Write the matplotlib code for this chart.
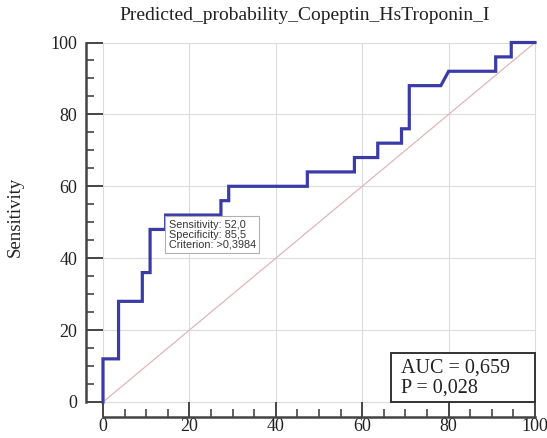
import matplotlib
matplotlib.use("Agg")
import matplotlib.pyplot as plt
from matplotlib.ticker import MultipleLocator
from matplotlib.patches import Rectangle

# ROC curve vertices (100 - Specificity, Sensitivity), in percent
fpr = [0, 0, 3.6, 3.6, 9.1, 9.1, 10.9, 10.9, 14.5, 14.5, 27.3, 27.3, 29.1, 29.1,
       47.3, 47.3, 58.2, 58.2, 63.6, 63.6, 69.1, 69.1, 70.9, 70.9, 78.2, 80.0,
       90.9, 90.9, 94.5, 94.5, 100]
tpr = [0, 12, 12, 28, 28, 36, 36, 48, 48, 52, 52, 56, 56, 60, 60, 64, 64, 68,
       68, 72, 72, 76, 76, 88, 88, 92, 92, 96, 96, 100, 100]

# Optimal criterion point
crit_sens = 52.0
crit_spec = 85.5
crit_label = ">0,3984"

auc_text = "AUC = 0,659"
p_text = "P = 0,028"
title = "Predicted_probability_Copeptin_HsTroponin_I"
ticks = [0, 20, 40, 60, 80, 100]

serif = "Liberation Serif"
sans = "Liberation Sans"

fig = plt.figure(figsize=(5.47, 4.38), dpi=100)
ax = fig.add_axes([103 / 547, 1 - 402 / 438, 432 / 547, 359.5 / 438])

ax.set_xlim(0, 100)
ax.set_ylim(0, 100)

# reference diagonal
ax.plot([0, 100], [0, 100], color="#e3b5b8", lw=0.9, zorder=2)
# ROC curve
ax.plot(fpr, tpr, color="#3b3ba8", lw=2.3, solid_joinstyle="miter",
        zorder=3, clip_on=False)

# grid
ax.set_xticks(ticks)
ax.set_yticks(ticks)
ax.xaxis.set_minor_locator(MultipleLocator(5))
ax.yaxis.set_minor_locator(MultipleLocator(5))
for v in ticks:
    ax.axvline(v, color="#dcdcdc", lw=0.8, zorder=0, clip_on=False)
    ax.axhline(v, color="#dcdcdc", lw=0.8, zorder=0, clip_on=False)

for s in ["top", "right"]:
    ax.spines[s].set_visible(False)
for s in ["left", "bottom"]:
    ax.spines[s].set_color("#444444")
    ax.spines[s].set_linewidth(1.8)
ax.spines["left"].set_position(("outward", 12.5))
ax.spines["bottom"].set_position(("outward", 10.5))

ax.tick_params(which="major", direction="in", length=12.5, width=1.4,
               color="#444444", labelsize=13)
ax.tick_params(which="minor", direction="in", length=6, width=1.2,
               color="#444444")
ax.tick_params(axis="y", which="major", pad=6)
ax.tick_params(axis="x", which="major", length=10.5, pad=1)
ax.tick_params(axis="x", which="minor", length=5.5)
for lab in ax.get_xticklabels() + ax.get_yticklabels():
    lab.set_fontfamily(serif)
    lab.set_color("#222222")

fig.text(15 / 547, 1 - 217 / 438, "Sensitivity", fontfamily=serif,
         fontsize=13.5, color="#222222", rotation=90, ha="center", va="center")

fig.text(305 / 547, 1 - 15 / 438, title, fontfamily=serif, fontsize=14,
         ha="center", va="center", color="#222222")

# criterion annotation
ax.text(100 - crit_spec + 0.7, crit_sens - 1.3,
        f"Sensitivity: {crit_sens:.1f}\nSpecificity: {crit_spec:.1f}\nCriterion: {crit_label}".replace(".", ","),
        fontfamily=sans, fontsize=7.8, color="#333333", ha="left", va="top",
        linespacing=1.0, zorder=5,
        bbox=dict(boxstyle="square,pad=0.3", fc="white", ec="#b0b0b0", lw=0.8))

# AUC box
ax.add_patch(Rectangle((66.7, 0), 33.3, 13.5, fc="white", ec="#333333",
                       lw=1.4, zorder=4, clip_on=False))
ax.text(69.0, 9.5, auc_text, fontfamily=serif, fontsize=14.5, color="#222222",
        ha="left", va="center", zorder=5)
ax.text(69.0, 3.9, p_text, fontfamily=serif, fontsize=14.5, color="#222222",
        ha="left", va="center", zorder=5)

fig.savefig("out.png", dpi=100)
